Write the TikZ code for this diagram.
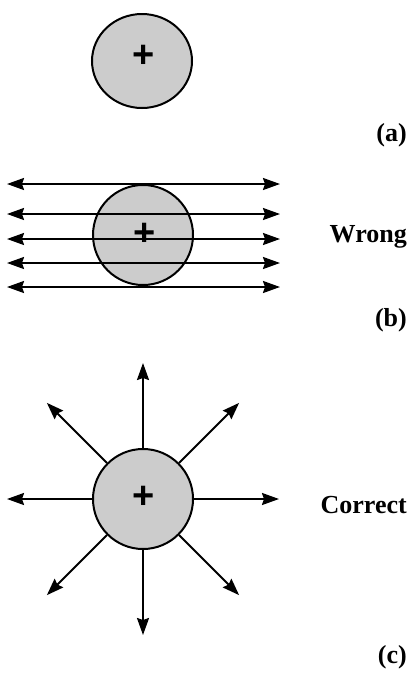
\documentclass[tikz,border=0pt]{standalone}
\usepackage{fontspec}
\setmainfont{Liberation Serif}
\newfontfamily\plusfont{Liberation Sans}
\usetikzlibrary{arrows.meta,shapes.geometric,calc}
\tikzset{
  charge/.style={draw=black, fill=black!20, line width=2pt, inner sep=0pt},
  plussign/.style={font=\plusfont\bfseries\fontsize{38}{38}\selectfont, inner sep=0pt},
  field/.style={line width=2pt, -{Stealth[length=17pt,width=12pt,inset=2pt]}},
  dfield/.style={line width=2pt, {Stealth[length=17pt,width=12pt,inset=2pt]}-{Stealth[length=17pt,width=12pt,inset=2pt]}},
  lbl/.style={font=\bfseries\fontsize{26}{30}\selectfont, inner sep=0pt, anchor=base east}
}
\begin{document}
\begin{tikzpicture}[x=1pt,y=-1pt]
\useasboundingbox (0,0) rectangle (410,678);
% (a)
\node[charge, ellipse, minimum width=100pt, minimum height=94pt] (c1) at (142,61) {};
\node[plussign] (p1) at (143.5,56.5) {+};
\node[lbl] (la) at (407,141) {(a)};
% (b)
\node[charge, circle, minimum size=100pt] (c2) at (143,235) {};
\foreach \y [count=\i] in {184,214,239,263,287} {
  \coordinate (bl\i) at (7,\y);
  \coordinate (br\i) at (280,\y);
  \draw[dfield] (bl\i) -- (br\i);
}
\node[plussign] (p2) at (145,234) {+};
\node[lbl] (wrong) at (407,242) {Wrong};
\node[lbl] (lb) at (407,326) {(b)};
% (c)
\node[charge, circle, minimum size=100pt] (c3) at (143,499) {};
\node[plussign] (p3) at (143.5,497) {+};
\foreach \a in {0,45,90,135,180,225,270,315} {
  \coordinate (t\a) at ($(143,499)+(\a:136pt)$);
}
\foreach \a in {0,45,90,135,180,225,270,315} {
  \draw[field] (c3) -- (t\a);
}
\node[lbl] (correct) at (407,513) {Correct};
\node[lbl] (lc) at (407,663) {(c)};
\end{tikzpicture}
\end{document}
